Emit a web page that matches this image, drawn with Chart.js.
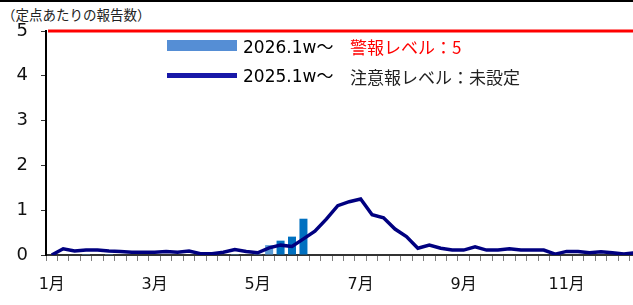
<!DOCTYPE html>
<html lang="ja">
<head>
<meta charset="utf-8">
<title>定点あたりの報告数</title>
<script src="https://cdn.jsdelivr.net/npm/chart.js@4.4.1/dist/chart.umd.min.js"></script>
<style>
    body { margin: 0; background: #fff; overflow: hidden; }
    #wrap { position: relative; width: 633px; height: 305px; overflow: hidden; }
    #chart { position: absolute; left: 0; top: 0; }
    .topline { position: absolute; left: 0; top: 0; width: 633px; height: 2px; background: #000; }
    .unit { position: absolute; left: 2px; top: 4px; font: 13.5px "Noto Sans CJK JP", sans-serif; color: #222; line-height: 20px; }
    .sw { position: absolute; left: 167px; width: 70px; }
    .lg { position: absolute; font-size: 17px; line-height: 22px; white-space: nowrap; color: #000; }
    .lat { font-family: "DejaVu Sans", "Noto Sans CJK JP", sans-serif; }
    .jp { font-family: "Noto Sans CJK JP", sans-serif; }
</style>
</head>
<body>
<div id="wrap">
    <div class="topline"></div>
    <div class="unit">（定点あたりの報告数）</div>
    <canvas id="chart" width="660" height="305"></canvas>
    <!-- legend, drawn by hand because of the extra level texts -->
    <div class="sw" style="top:40px; height:11px; background:#558ED5;"></div>
    <div class="lg lat" style="left:243px; top:36px;">2026.1w～</div>
    <div class="lg jp" style="left:350px; top:36px; color:#FF0000;">警報レベル：5</div>
    <div class="sw" style="top:73px; height:5px; background:#1818A8;"></div>
    <div class="lg lat" style="left:243px; top:65px;">2025.1w～</div>
    <div class="lg jp" style="left:350px; top:66px; color:#222;">注意報レベル：未設定</div>
</div>
<script>
// month labels and the week (category index) they stand on
var monthTicks = ['1月', '3月', '5月', '7月', '9月', '11月'];
var monthTickWeeks = [0, 9, 18, 27, 36, 45];
var weekCount = 52;

// 2026 reports per sentinel (bars), weeks 1..23
var cases2026 = [0, 0, 0, 0.02, 0, 0.02, 0, 0, 0, 0, 0, 0, 0, 0, 0, 0, 0.02, 0, 0.02, 0.22, 0.32, 0.41, 0.81];

// 2025 reports per sentinel (line), weeks 1..52
var cases2025 = [0, 0.14, 0.09, 0.11, 0.11, 0.09, 0.08, 0.06, 0.06, 0.06,
    0.08, 0.06, 0.09, 0.03, 0.03, 0.06, 0.12, 0.08, 0.05, 0.16,
    0.22, 0.19, 0.36, 0.53, 0.8, 1.1, 1.19, 1.25, 0.9, 0.83,
    0.58, 0.41, 0.15, 0.22, 0.15, 0.11, 0.11, 0.18, 0.11, 0.11,
    0.14, 0.11, 0.11, 0.11, 0.02, 0.08, 0.08, 0.05, 0.07, 0.05,
    0.02, 0.05];

var alarmLevel = 5; // 警報レベル

// build the category labels, empty for the weeks without a month name
var labels = [];
for (var i = 0; i < weekCount; i++) {
    var k = monthTickWeeks.indexOf(i);
    labels.push(k >= 0 ? monthTicks[k] : '');
}

// red line for the alarm level, over the full width of the plot
var alarmLine = {
    id: 'alarmLine',
    afterDatasetsDraw: function (chart) {
        var ctx = chart.ctx;
        var y = chart.scales.y.getPixelForValue(alarmLevel);
        ctx.save();
        ctx.strokeStyle = '#FF0000';
        ctx.lineWidth = 3;
        ctx.beginPath();
        ctx.moveTo(chart.chartArea.left + 2, y);
        ctx.lineTo(chart.chartArea.right, y);
        ctx.stroke();
        ctx.restore();
    }
};

var tickFont = { family: '"DejaVu Sans", "Noto Sans CJK JP", sans-serif', size: 18 };

new Chart(document.getElementById('chart'), {
    type: 'bar',
    data: {
        labels: labels,
        datasets: [{
            type: 'line',
            label: '2025.1w～',
            data: cases2025,
            borderColor: '#000080',
            borderWidth: 3.5,
            pointRadius: 0,
            tension: 0,
            order: 0
        }, {
            label: '2026.1w～',
            data: cases2026,
            backgroundColor: function (c) {
                return c.dataIndex >= 20 ? '#0070C0' : '#5B9BD5';
            },
            barPercentage: 0.7,
            categoryPercentage: 1,
            order: 1
        }]
    },
    options: {
        responsive: false,
        animation: false,
        layout: { padding: { top: 31, right: 19, left: 0, bottom: 0 } },
        plugins: {
            legend: { display: false },
            tooltip: { enabled: false }
        },
        scales: {
            x: {
                grid: { drawOnChartArea: false, offset: true, tickLength: 6, color: '#7F7F7F' },
                border: { color: '#333', width: 2 },
                ticks: {
                    autoSkip: false, maxRotation: 0, padding: 14, color: '#111',
                    font: { family: '"DejaVu Sans", "Noto Sans CJK JP", sans-serif', size: 16 }
                },
                afterFit: function (scale) { scale.height = 50; }
            },
            y: {
                min: 0,
                max: 5,
                ticks: { stepSize: 1, padding: 13, color: '#111', font: tickFont },
                grid: { drawOnChartArea: false, tickLength: 5, color: '#333' },
                border: { color: '#000', width: 2 },
                afterFit: function (scale) { scale.width = 46; }
            }
        }
    },
    plugins: [alarmLine]
});
</script>
</body>
</html>
